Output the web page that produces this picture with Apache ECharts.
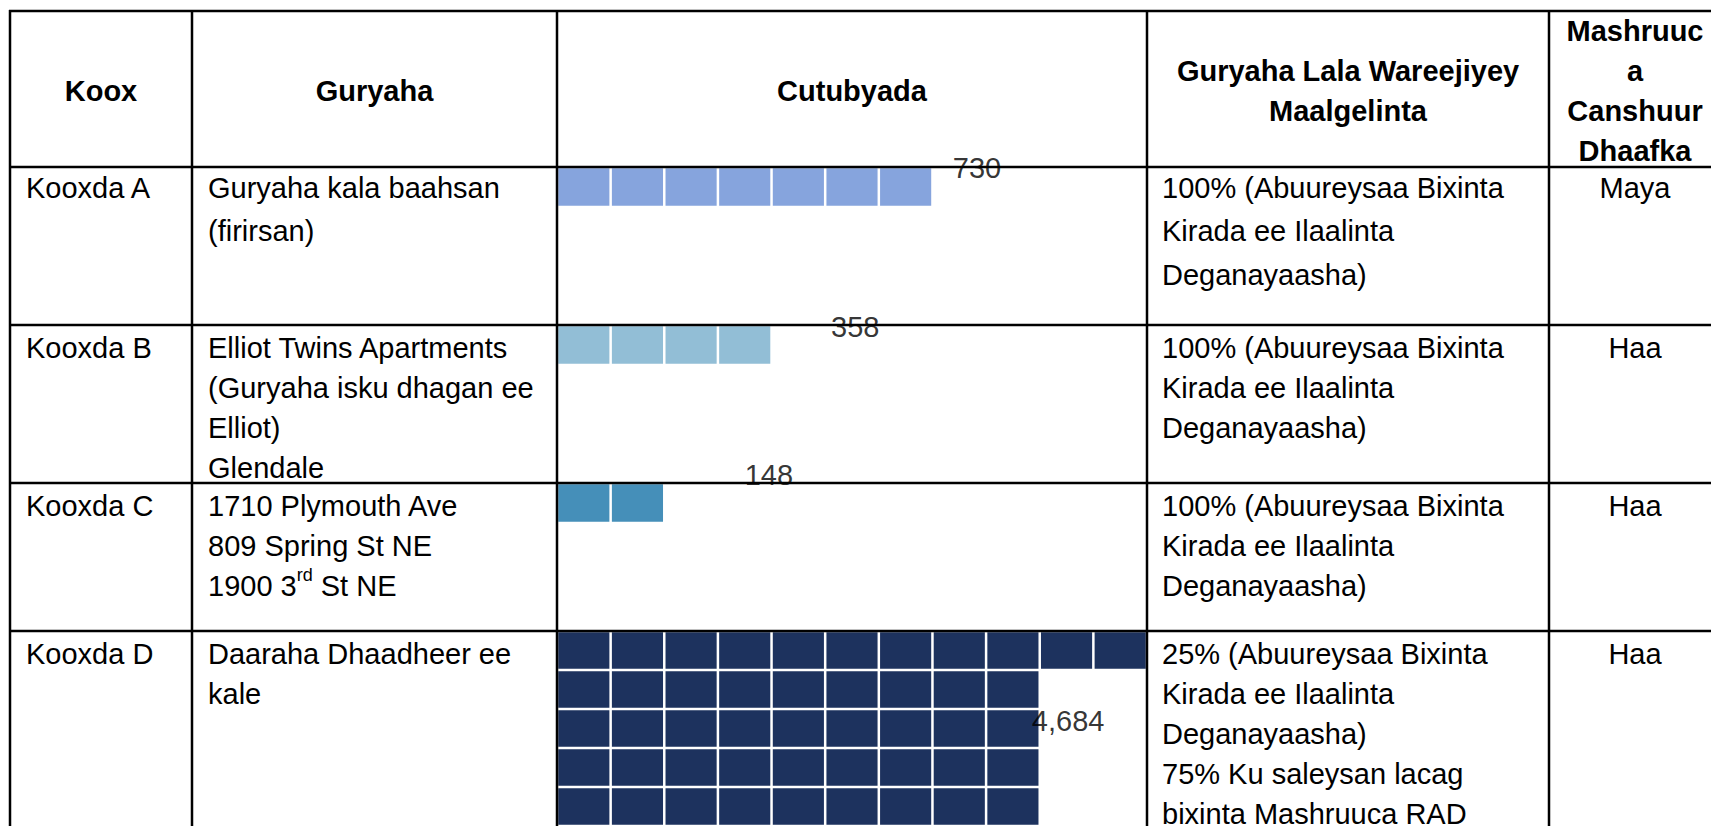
<!DOCTYPE html>
<html>
<head>
<meta charset="utf-8">
<title>Cutubyada</title>
<style>
  html, body { margin: 0; padding: 0; background: #fff; }
  #chart { width: 1711px; height: 826px; }
</style>
</head>
<body>
<div id="chart"></div>
<script src="https://cdn.jsdelivr.net/npm/echarts@6/dist/echarts.min.js"></script>
<script>
const groups = ['Kooxda A', 'Kooxda B', 'Kooxda C', 'Kooxda D'];
const units = [730, 358, 148, 4684];
// how many squares sit on each line of the waffle, per group
const squareRows = [[7], [4], [2], [11, 9, 9, 9, 9]];
const colors = ['#86a4dd', '#92bed6', '#458fb9', '#1d325e'];

const headers = [
  'Koox',
  'Guryaha',
  'Cutubyada',
  'Guryaha Lala Wareejiyey\nMaalgelinta',
  'Mashruuc\na\nCanshuur\nDhaafka',
];
const buildings = [
  'Guryaha kala baahsan\n(firirsan)',
  'Elliot Twins Apartments\n(Guryaha isku dhagan ee\nElliot)\nGlendale',
  '1710 Plymouth Ave\n809 Spring St NE\n1900 3{sup|rd} St NE',
  'Daaraha Dhaadheer ee\nkale',
];
const financing = [
  '100% (Abuureysaa Bixinta\nKirada ee Ilaalinta\nDeganayaasha)',
  '100% (Abuureysaa Bixinta\nKirada ee Ilaalinta\nDeganayaasha)',
  '100% (Abuureysaa Bixinta\nKirada ee Ilaalinta\nDeganayaasha)',
  '25% (Abuureysaa Bixinta\nKirada ee Ilaalinta\nDeganayaasha)\n75% Ku saleysan lacag\nbixinta Mashruuca RAD',
];
const taxExempt = ['Maya', 'Haa', 'Haa', 'Haa'];

// table layout
const colX = [10, 192, 557, 1147, 1549, 1721];
const rowY = [11, 167, 325, 483, 631, 840];
const SQUARES_ACROSS = 11;
const CELL_H = 40;
const GAP = 2.5;
const LINE_H = 40;
// the first body row is set a little looser than the others
const rowLineH = [43.5, 40, 40, 40];
const rowTextTop = [-1, 2.5, 2.5, 2.5];
const FONT = '"Liberation Sans", Arial, sans-serif';
const FONT_SIZE = 29;

// where each value label sits, in square units of its own waffle
const labelSpots = [[7.83, 0.02], [5.56, 0.04], [3.95, -0.19], [9.53, 2.3]];

const chart = echarts.init(document.getElementById('chart'), null, { renderer: 'svg' });

function squaresOf(rows) {
  const out = [];
  rows.forEach((count, r) => {
    for (let c = 0; c < count; c++) out.push([c, r]);
  });
  return out;
}

const squareSeries = squareRows.map((rows, i) => ({
  name: groups[i],
  type: 'custom',
  xAxisIndex: i,
  yAxisIndex: i,
  silent: true,
  z: 2,
  encode: { x: 0, y: 1 },
  data: squaresOf(rows),
  renderItem: (params, api) => {
    const p = api.coord([api.value(0), api.value(1)]);
    const s = api.size([1, 1]);
    return {
      type: 'rect',
      shape: { x: p[0] + GAP / 2, y: p[1] + GAP / 2, width: s[0] - GAP, height: s[1] - GAP },
      style: { fill: colors[i] },
    };
  },
}));

const labelSeries = units.map((v, i) => ({
  type: 'scatter',
  xAxisIndex: i,
  yAxisIndex: i,
  silent: true,
  clip: false,
  z: 60,
  symbolSize: 1,
  itemStyle: { color: 'rgba(0,0,0,0)' },
  data: [[labelSpots[i][0], labelSpots[i][1], v]],
  label: {
    show: true,
    position: 'inside',
    formatter: (p) => p.value[2].toLocaleString('en-US'),
    color: '#000',
    textBorderWidth: 0,
    fontFamily: FONT,
    fontSize: FONT_SIZE,
  },
}));

const lines = [];
rowY.slice(0, 5).forEach((y) => {
  lines.push({ type: 'line', z: 50, silent: true, shape: { x1: colX[0] - 1, y1: y, x2: 1740, y2: y }, style: { stroke: '#000', lineWidth: 2.5 } });
});
colX.slice(0, 5).forEach((x) => {
  lines.push({ type: 'line', z: 50, silent: true, shape: { x1: x, y1: rowY[0] - 1, x2: x, y2: 860 }, style: { stroke: '#000', lineWidth: 2.5 } });
});

function textEl(text, x, y, opts) {
  return {
    type: 'text',
    z: 55,
    silent: true,
    x: x,
    y: y,
    style: Object.assign({
      text: text,
      fill: '#000',
      fontFamily: FONT,
      fontSize: FONT_SIZE,
      lineHeight: LINE_H,
      align: 'left',
      verticalAlign: 'top',
      rich: { sup: { fontSize: 18, lineHeight: 32, verticalAlign: 'top', fontFamily: FONT, fill: '#000' } },
    }, opts || {}),
  };
}

const texts = [];
headers.forEach((h, j) => {
  const cx = (colX[j] + colX[j + 1]) / 2;
  texts.push(textEl(h, cx, (rowY[0] + rowY[1]) / 2 + 2, { align: 'center', verticalAlign: 'middle', fontWeight: 'bold' }));
});
groups.forEach((g, i) => {
  const top = rowY[i + 1] + rowTextTop[i];
  const lh = { lineHeight: rowLineH[i] };
  texts.push(textEl(g, colX[0] + 16, top, lh));
  texts.push(textEl(buildings[i], colX[1] + 16, top, lh));
  texts.push(textEl(financing[i], colX[3] + 15, top, lh));
  texts.push(textEl(taxExempt[i], (colX[4] + colX[5]) / 2, top, { align: 'center', lineHeight: rowLineH[i] }));
});

chart.setOption({
  animation: false,
  backgroundColor: '#fff',
  grid: squareRows.map((rows, i) => ({
    left: colX[2],
    width: colX[3] - colX[2],
    top: rowY[i + 1],
    height: rows.length * CELL_H,
  })),
  xAxis: squareRows.map((_, i) => ({ type: 'value', gridIndex: i, min: 0, max: SQUARES_ACROSS, show: false })),
  yAxis: squareRows.map((rows, i) => ({ type: 'value', gridIndex: i, min: 0, max: rows.length, inverse: true, show: false })),
  series: [...squareSeries, ...labelSeries],
  graphic: { elements: [...lines, ...texts] },
});

window.addEventListener('resize', () => chart.resize());
</script>
</body>
</html>
